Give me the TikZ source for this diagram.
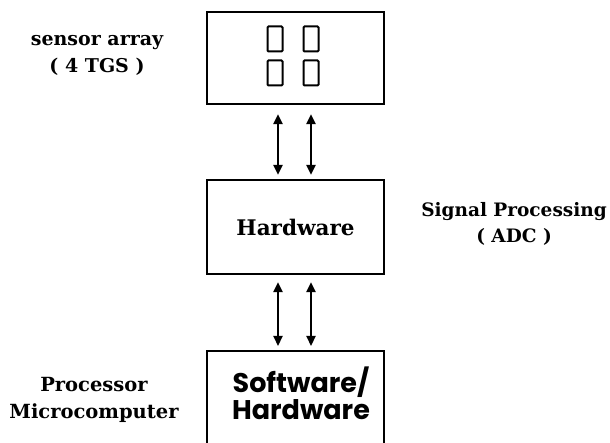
\documentclass[tikz,border=0pt]{standalone}
\usepackage{fontspec}
\setmainfont{DejaVu Serif}
\newfontfamily\geo{Poppins}
\usetikzlibrary{arrows.meta,calc}
\begin{document}
\begin{tikzpicture}[x=1pt,y=1pt,
  blockbox/.style={draw,line width=2.2pt,minimum width=177pt,inner sep=0pt},
  cell/.style={draw,line width=2pt,minimum width=15pt,minimum height=25pt,inner sep=0pt,rounded corners=1pt},
  link/.style={line width=2.2pt,{Triangle[length=10pt,width=9pt]}-{Triangle[length=10pt,width=9pt]}},
  lbl/.style={font=\bfseries\fontsize{19}{27}\selectfont,align=center,inner sep=0pt}]
\useasboundingbox (0,0) rectangle (610,-443);
% boxes
\node[blockbox,minimum height=92pt] (top) at (295.5,-58) {};
\node[blockbox,minimum height=94pt,font=\bfseries\fontsize{21.5}{24}\selectfont] (mid) at (295.5,-227) {Hardware};
\node[blockbox,minimum height=130pt,anchor=north] (bot) at (295.5,-350) {};
\node[font=\geo\bfseries\fontsize{27}{27}\selectfont,align=center,inner sep=0pt] (sw) at (301,-393) {Software/\\Hardware};
% sensor cells
\node[cell] (c1) at (275,-39) {};
\node[cell] (c2) at (311,-39) {};
\node[cell] (c3) at (275,-73) {};
\node[cell] (c4) at (311,-73) {};
% arrow columns
\coordinate (ax1) at (278,0);
\coordinate (ax2) at (311,0);
\draw[link,shorten <=9pt,shorten >=4pt] (top.south -| ax1) -- (mid.north -| ax1);
\draw[link,shorten <=9pt,shorten >=4pt] (top.south -| ax2) -- (mid.north -| ax2);
\draw[link,shorten <=7pt,shorten >=4pt] (mid.south -| ax1) -- (bot.north -| ax1);
\draw[link,shorten <=7pt,shorten >=4pt] (mid.south -| ax2) -- (bot.north -| ax2);
% labels
\node[lbl] (sa) at (97,-55) {sensor array\\( 4 TGS )};
\node[lbl,font=\bfseries\fontsize{18.5}{26}\selectfont] (sp) at (514,-224) {Signal Processing\\( ADC )};
\node[lbl,font=\bfseries\fontsize{19.5}{27}\selectfont] (pm) at (94,-400) {Processor\\Microcomputer};
\end{tikzpicture}
\end{document}
